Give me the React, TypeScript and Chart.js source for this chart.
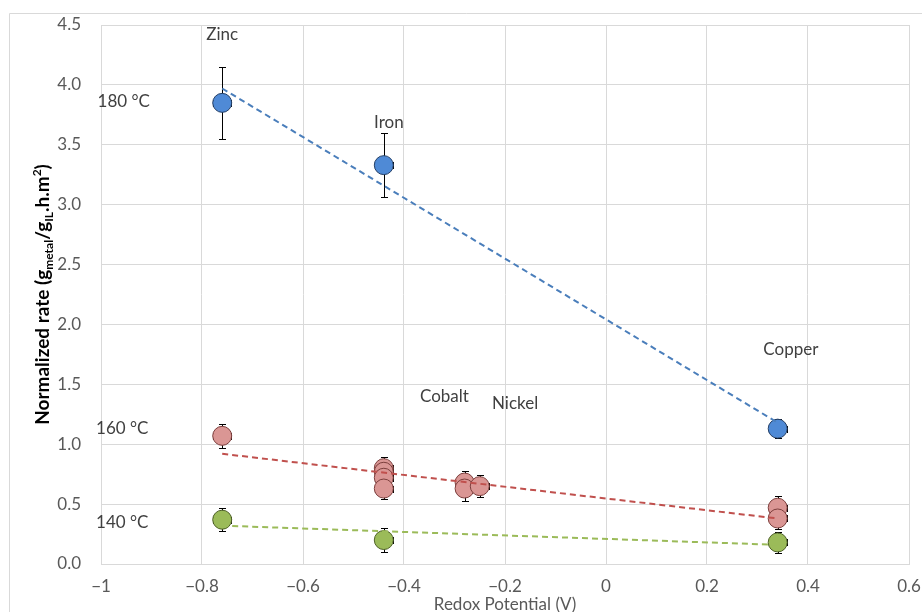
import React, { useEffect, useRef } from "react";
import { Chart, registerables } from "chart.js";

Chart.register(...registerables);

// ---- Data (redox potential in V, normalized rate) ----
const x180 = [-0.76, -0.44, 0.34];
const y180 = [3.85, 3.33, 1.13];
const err180 = [0.3, 0.27, 0.08];

const x160 = [-0.76, -0.44, -0.44, -0.44, -0.44, -0.28, -0.28, -0.25, 0.34, 0.34];
const y160 = [1.07, 0.8, 0.77, 0.72, 0.63, 0.68, 0.63, 0.65, 0.47, 0.38];
const err160 = [0.1, 0.09, 0.09, 0.09, 0.09, 0.1, 0.1, 0.09, 0.1, 0.09];

const x140 = [-0.76, -0.44, 0.34];
const y140 = [0.37, 0.2, 0.18];
const err140 = [0.095, 0.1, 0.09];

const trendX = [-0.76, 0.34];
const trend180 = [3.97, 1.18];
const trend160 = [0.92, 0.38];
const trend140 = [0.32, 0.16];

const xTickValues = [-1, -0.8, -0.6, -0.4, -0.2, 0, 0.2, 0.4, 0.6];
const yTickValues = [0, 0.5, 1, 1.5, 2, 2.5, 3, 3.5, 4, 4.5];

const metalNames = ["Zinc", "Iron", "Copper", "Cobalt", "Nickel"];
const tempNames = ["180 °C", "160 °C", "140 °C"];

// label anchors (data coordinates)
const metalLabelX = [-0.76, -0.43, 0.366, -0.32, -0.18];
const metalLabelY = [4.42, 3.69, 1.79, 1.4, 1.34];
const tempLabelX = [-0.955, -0.958, -0.958];
const tempLabelY = [3.86, 1.135, 0.35];

const X_ERR = 0.018;
const FONT = "Lato, 'Open Sans', sans-serif";

const toPts = (xs: number[], ys: number[]) => xs.map((x, i) => ({ x, y: ys[i] }));

const errorSeries = [
  { xs: x180, ys: y180, err: err180 },
  { xs: x160, ys: y160, err: err160 },
  { xs: x140, ys: y140, err: err140 },
];

const errorBarPlugin = {
  id: "errorBars",
  beforeDatasetsDraw(chart: any) {
    const { ctx, scales } = chart;
    const xs = scales.x;
    const ys = scales.y;
    ctx.save();
    ctx.strokeStyle = "#000";
    ctx.lineWidth = 1;
    const line = (a: number, b: number, c: number, d: number) => {
      ctx.beginPath();
      ctx.moveTo(a, b);
      ctx.lineTo(c, d);
      ctx.stroke();
    };
    for (const s of errorSeries) {
      s.xs.forEach((xv, i) => {
        const px = Math.round(xs.getPixelForValue(xv)) + 0.5;
        const py = Math.round(ys.getPixelForValue(s.ys[i])) + 0.5;
        const top = Math.round(ys.getPixelForValue(s.ys[i] + s.err[i])) + 0.5;
        const bot = Math.round(ys.getPixelForValue(s.ys[i] - s.err[i])) + 0.5;
        line(px, top, px, bot);
        line(px - 3.5, top, px + 3.5, top);
        line(px - 3.5, bot, px + 3.5, bot);
        const l = Math.round(xs.getPixelForValue(xv - X_ERR)) + 0.5;
        const r = Math.round(xs.getPixelForValue(xv + X_ERR)) + 0.5;
        line(l, py, r, py);
        line(l, py - 3.5, l, py + 3.5);
        line(r, py - 3.5, r, py + 3.5);
      });
    }
    ctx.restore();
  },
};

const textPlugin = {
  id: "texts",
  afterDraw(chart: any) {
    const { ctx, scales, chartArea } = chart;
    const xs = scales.x;
    const ys = scales.y;
    ctx.save();
    // outer border
    ctx.strokeStyle = "#d9d9d9";
    ctx.lineWidth = 1;
    ctx.beginPath();
    ctx.moveTo(9.5, 640);
    ctx.lineTo(9.5, 13.5);
    ctx.lineTo(940, 13.5);
    ctx.stroke();

    // annotations
    ctx.fillStyle = "#404040";
    ctx.font = `17px ${FONT}`;
    ctx.textAlign = "center";
    ctx.textBaseline = "middle";
    metalNames.forEach((n, i) => {
      ctx.fillText(n, xs.getPixelForValue(metalLabelX[i]), ys.getPixelForValue(metalLabelY[i]));
    });
    tempNames.forEach((n, i) => {
      ctx.fillText(n, xs.getPixelForValue(tempLabelX[i]), ys.getPixelForValue(tempLabelY[i]));
    });

    // x axis title
    ctx.fillStyle = "#595959";
    ctx.font = `17px ${FONT}`;
    ctx.fillText("Redox Potential (V)", (chartArea.left + chartArea.right) / 2, 605);

    // y axis title with sub/superscripts
    const segs: [string, string][] = [
      ["Normalized rate (g", "n"],
      ["metal", "sub"],
      ["/g", "n"],
      ["IL", "sub"],
      [".h.m", "n"],
      ["2", "sup"],
      [")", "n"],
    ];
    const big = `bold 19px ${FONT}`;
    const small = `bold 12px ${FONT}`;
    let total = 0;
    for (const [t, k] of segs) {
      ctx.font = k === "n" ? big : small;
      total += ctx.measureText(t).width;
    }
    const cy = (chartArea.top + chartArea.bottom) / 2;
    ctx.translate(42, cy);
    ctx.rotate(-Math.PI / 2);
    ctx.fillStyle = "#000";
    ctx.textAlign = "left";
    ctx.textBaseline = "alphabetic";
    let xpos = -total / 2;
    const base = 7;
    for (const [t, k] of segs) {
      ctx.font = k === "n" ? big : small;
      const dy = k === "sub" ? 4 : k === "sup" ? -8 : 0;
      ctx.fillText(t, xpos, base + dy);
      xpos += ctx.measureText(t).width;
    }
    ctx.restore();
  },
};

const fmtX = (v: number) => {
  if (Math.abs(v) < 1e-9) return "0";
  const s = Math.abs(v - Math.round(v)) < 1e-9 ? String(Math.round(v)) : v.toFixed(1);
  return s.replace("-", "\u2212");
};

export default function App() {
  const ref = useRef<HTMLCanvasElement>(null);
  useEffect(() => {
    if (!ref.current) return;
    const marker = (fill: string, border: string) => ({
      showLine: false,
      pointRadius: 9.5,
      pointHoverRadius: 9.5,
      pointBackgroundColor: fill,
      pointBorderColor: border,
      pointBorderWidth: 1,
      backgroundColor: fill,
      borderColor: border,
    });
    const trend = (color: string) => ({
      showLine: true,
      pointRadius: 0,
      borderColor: color,
      borderWidth: 2,
      borderDash: [6, 4],
      fill: false,
    });
    const chart = new Chart(ref.current, {
      type: "scatter",
      data: {
        datasets: [
          { label: "t180", data: toPts(trendX, trend180), order: 0, ...trend("#4a7ebb") },
          { label: "t160", data: toPts(trendX, trend160), order: 0, ...trend("#c0504d") },
          { label: "t140", data: toPts(trendX, trend140), order: 0, ...trend("#9bbb59") },
          { label: "180 °C", data: toPts(x180, y180), order: 1, ...marker("#4f8ad6", "#243f66") },
          { label: "160 °C", data: toPts(x160, y160), order: 1, ...marker("#da9694", "#7d3f3d") },
          { label: "140 °C", data: toPts(x140, y140), order: 1, ...marker("#9bbb59", "#4f6228") },
        ] as any,
      },
      options: {
        responsive: false,
        animation: false,
        layout: { padding: { top: 25, right: 13, left: 0, bottom: 0 } },
        plugins: { legend: { display: false }, tooltip: { enabled: false } },
        scales: {
          x: {
            type: "linear",
            min: -1,
            max: 0.6,
            afterFit: (s: any) => {
              s.height = 48;
              s.paddingLeft = 0;
              s.paddingRight = 0;
            },
            afterBuildTicks: (s: any) => {
              s.ticks = xTickValues.map((v) => ({ value: v }));
            },
            ticks: {
              callback: (v: any) => fmtX(Number(v)),
              color: "#595959",
              font: { family: FONT, size: 17 },
              padding: 12,
              maxRotation: 0,
            },
            grid: { color: "#d9d9d9", drawTicks: false },
            border: { color: "#d9d9d9" },
          },
          y: {
            type: "linear",
            min: 0,
            max: 4.5,
            afterFit: (s: any) => {
              s.width = 101;
              s.paddingTop = 0;
              s.paddingBottom = 0;
            },
            afterBuildTicks: (s: any) => {
              s.ticks = yTickValues.map((v) => ({ value: v }));
            },
            ticks: {
              callback: (v: any) => Number(v).toFixed(1),
              color: "#595959",
              font: { family: FONT, size: 17 },
              padding: 20,
            },
            grid: { color: "#d9d9d9", drawTicks: false },
            border: { color: "#d9d9d9" },
          },
        },
      } as any,
      plugins: [errorBarPlugin, textPlugin],
    });
    return () => chart.destroy();
  }, []);
  return (
    <canvas
      ref={ref}
      width={922}
      height={612}
      style={{ position: "fixed", left: 0, top: 0, width: 922, height: 612, background: "#fff" }}
    />
  );
}
